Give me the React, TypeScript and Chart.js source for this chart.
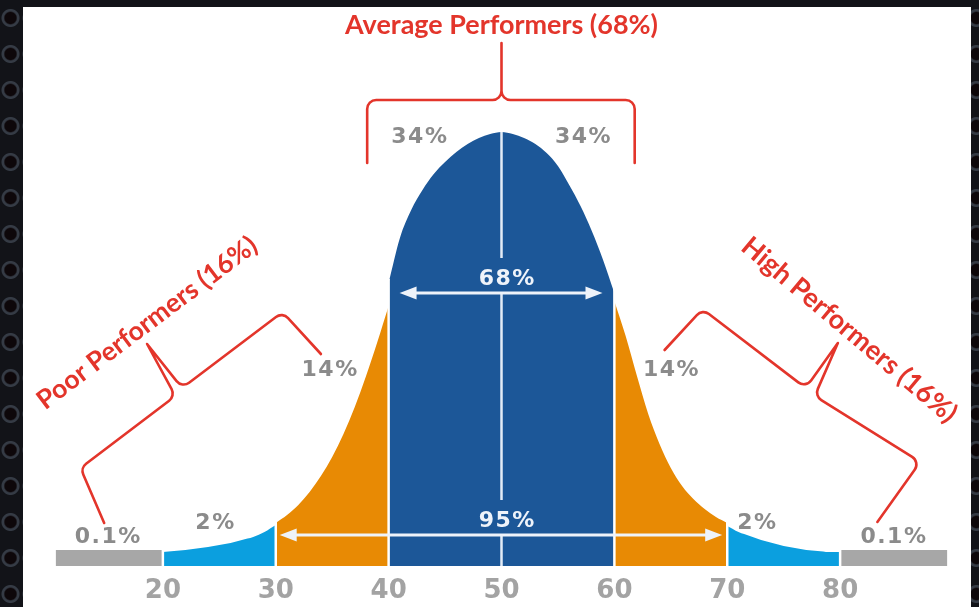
import React, { useEffect, useRef } from "react";
import { Chart, registerables } from "chart.js";

Chart.register(...registerables);

// ---------- data (x = score, y = relative height of the curve) ----------
const tickValues = [20, 30, 40, 50, 60, 70, 80];
const boundaries = [20, 30, 40, 60, 70, 80];

const grayLeftX = [10.5, 20];
const grayLeftY = [16, 16];
const tailLeftX = [20, 21, 22, 23, 24, 25, 26, 27, 28, 29, 30];
const tailLeftY = [14, 15, 16, 17.5, 19, 21, 23, 26, 29, 34, 41];
const orangeLeftX = [30, 31, 32, 33, 34, 35, 36, 37, 38, 39, 40];
const orangeLeftY = [43, 51, 61, 74, 90, 109, 132, 159, 190, 224, 260];
const centerX = [40, 41, 42, 43, 44, 45, 46, 47, 48, 49, 50, 51, 52, 53, 54, 55, 56, 57, 58, 59, 60];
const centerY = [283, 328, 356, 376, 392, 404, 414, 422, 428, 432, 434, 432, 428, 422, 413, 400, 381, 360, 335, 306, 273];
const orangeRightX = [60, 61, 62, 63, 64, 65, 66, 67, 68, 69, 70];
const orangeRightY = [265, 230, 190, 152, 122, 98, 80, 67, 57, 49, 43];
const tailRightX = [70, 71, 72, 73, 74, 75, 76, 77, 78, 79, 80];
const tailRightY = [40, 34, 30, 26, 23, 20, 18, 16, 15, 14, 14];
const grayRightX = [80, 89.5];
const grayRightY = [16, 16];

// arrows (span and height) with their white labels
const arrowLabels = ["68%", "95%"];
const arrowFrom = [40.97, 30.35];
const arrowTo = [58.95, 69.55];
const arrowY = [273, 31];

// grey share labels
const pctLabels = ["34%", "34%", "14%", "14%", "2%", "2%", "0.1%", "0.1%"];
const pctX = [42.7, 57.2, 34.75, 65.0, 24.6, 72.6, 15.1, 84.7];
const pctY = [429, 429, 196, 196, 43, 43, 29, 29];

// red group titles
const groupTitles = ["Average Performers (68%)", "Poor Performers (16%)", "High Performers (16%)"];
const groupX = [50, 18.6, 80.8];
const groupY = [541, 243, 236];
const groupAngle = [0, -37, 40];
const groupWidth = [313, 268, 272];

// red braces (polylines in data units, index of the pointed tip)
const braceTopX = [38.1, 38.1, 50, 50, 50, 61.8, 61.8];
const braceTopY = [403, 466, 466, 523, 466, 466, 403];
const bracePoorX = [14.8, 12.7, 21.1, 18.6, 21.7, 30.6, 34.0];
const bracePoorY = [43, 98, 170, 222, 178, 254, 212];
const braceHighX = [83.3, 87.1, 77.75, 79.8, 76.95, 67.8, 64.45];
const braceHighY = [44, 104, 170, 223, 178, 257, 216];
const braceTip = 3;

const COLORS = {
  gray: "#a7a7a7",
  tail: "#0b9fdf",
  orange: "#e88a04",
  blue: "#1c5798",
  red: "#e3352b",
  pct: "#8b8b8b",
  tick: "#a3a3a3",
};

const allSeries: [number[], number[]][] = [
  [grayLeftX, grayLeftY],
  [tailLeftX, tailLeftY],
  [orangeLeftX, orangeLeftY],
  [centerX, centerY],
  [orangeRightX, orangeRightY],
  [tailRightX, tailRightY],
  [grayRightX, grayRightY],
];

const heightAt = (b: number) => {
  let h = 0;
  allSeries.forEach(([xs, ys]) => {
    xs.forEach((x, i) => {
      if (x === b) h = Math.max(h, ys[i]);
    });
  });
  return h;
};

const pts = (xs: number[], ys: number[]) => xs.map((x, i) => ({ x, y: ys[i] }));

const area = (xs: number[], ys: number[], color: string, smooth: boolean) => ({
  data: pts(xs, ys),
  backgroundColor: color,
  borderWidth: 0,
  pointRadius: 0,
  fill: "origin",
  tension: smooth ? 0.4 : 0,
  cubicInterpolationMode: smooth ? "monotone" : "default",
});

function drawText(
  ctx: CanvasRenderingContext2D,
  text: string,
  x: number,
  y: number,
  font: string,
  color: string,
  angle = 0,
  spacing = 0
) {
  ctx.save();
  ctx.translate(x, y);
  ctx.rotate((angle * Math.PI) / 180);
  ctx.font = font;
  (ctx as any).letterSpacing = spacing + "px";
  ctx.fillStyle = color;
  ctx.textAlign = "center";
  ctx.textBaseline = "middle";
  ctx.fillText(text, spacing / 2, 0);
  ctx.restore();
}

function fitFont(ctx: CanvasRenderingContext2D, text: string, weight: string, family: string, target: number) {
  const base = 26;
  ctx.save();
  (ctx as any).letterSpacing = "0px";
  ctx.font = `${weight} ${base}px ${family}`;
  const w = ctx.measureText(text).width;
  ctx.restore();
  return `${weight} ${((base * target) / w).toFixed(2)}px ${family}`;
}

function drawBrace(
  ctx: CanvasRenderingContext2D,
  X: (v: number) => number,
  Y: (v: number) => number,
  xs: number[],
  ys: number[],
  tip: number
) {
  const p = xs.map((x, i) => [X(x), Y(ys[i])]);
  ctx.beginPath();
  ctx.moveTo(p[0][0], p[0][1]);
  for (let i = 1; i < p.length - 1; i++) {
    if (i === tip) ctx.lineTo(p[i][0], p[i][1]);
    else ctx.arcTo(p[i][0], p[i][1], p[i + 1][0], p[i + 1][1], 9);
  }
  ctx.lineTo(p[p.length - 1][0], p[p.length - 1][1]);
  ctx.stroke();
}

const overlayPlugin = {
  id: "overlay",
  afterDatasetsDraw(chart: any) {
    const ctx: CanvasRenderingContext2D = chart.ctx;
    const xs = chart.scales.x;
    const ys = chart.scales.y;
    const X = (v: number) => xs.getPixelForValue(v);
    const Y = (v: number) => ys.getPixelForValue(v);
    ctx.save();

    // white separators between the bands
    ctx.strokeStyle = "#ffffff";
    ctx.lineWidth = 2.5;
    boundaries.forEach((b) => {
      ctx.beginPath();
      ctx.moveTo(X(b), Y(0) + 1);
      ctx.lineTo(X(b), Y(heightAt(b)) - 4);
      ctx.stroke();
    });

    // centre line (broken for the arrow labels)
    ctx.strokeStyle = "#e3ebf6";
    ctx.lineWidth = 2.5;
    const peak = Math.max(...centerY);
    const cx = X(50);
    let start = Y(peak);
    arrowY.forEach((a) => {
      const by = Y(a);
      ctx.beginPath();
      ctx.moveTo(cx, start);
      ctx.lineTo(cx, by - 35);
      ctx.stroke();
      start = by;
    });
    ctx.beginPath();
    ctx.moveTo(cx, start);
    ctx.lineTo(cx, Y(0));
    ctx.stroke();

    // arrows
    arrowLabels.forEach((lab, i) => {
      const y = Y(arrowY[i]);
      const x1 = X(arrowFrom[i]);
      const x2 = X(arrowTo[i]);
      const head = 17;
      const hw = 6.5;
      ctx.strokeStyle = "#eef3fa";
      ctx.fillStyle = "#eef3fa";
      ctx.lineWidth = 3;
      ctx.beginPath();
      ctx.moveTo(x1 + head - 2, y);
      ctx.lineTo(x2 - head + 2, y);
      ctx.stroke();
      ctx.beginPath();
      ctx.moveTo(x1, y);
      ctx.lineTo(x1 + head, y - hw);
      ctx.lineTo(x1 + head, y + hw);
      ctx.closePath();
      ctx.fill();
      ctx.beginPath();
      ctx.moveTo(x2, y);
      ctx.lineTo(x2 - head, y - hw);
      ctx.lineTo(x2 - head, y + hw);
      ctx.closePath();
      ctx.fill();
      drawText(ctx, lab, X(50) + 5, y - 14, "bold 22px 'DejaVu Sans'", "#eef3fa", 0, 1.5);
    });

    // grey percentage labels
    pctLabels.forEach((lab, i) => {
      drawText(ctx, lab, X(pctX[i]), Y(pctY[i]), "bold 22px 'DejaVu Sans'", COLORS.pct, 0, 1.5);
    });

    // red braces
    ctx.strokeStyle = COLORS.red;
    ctx.lineWidth = 2.6;
    ctx.lineJoin = "round";
    ctx.lineCap = "round";
    drawBrace(ctx, X, Y, braceTopX, braceTopY, braceTip);
    drawBrace(ctx, X, Y, bracePoorX, bracePoorY, braceTip);
    drawBrace(ctx, X, Y, braceHighX, braceHighY, braceTip);

    // red titles
    groupTitles.forEach((t, i) => {
      const font = fitFont(ctx, t, "bold", "Lato", groupWidth[i]);
      drawText(ctx, t, X(groupX[i]), Y(groupY[i]), font, COLORS.red, groupAngle[i], 0);
    });

    ctx.restore();
  },
};

export default function App() {
  const ref = useRef<HTMLCanvasElement | null>(null);

  useEffect(() => {
    if (!ref.current) return;
    const chart = new Chart(ref.current, {
      type: "line",
      data: {
        datasets: allSeries.map(([xs, ys], i) => {
          const colors = [COLORS.gray, COLORS.tail, COLORS.orange, COLORS.blue, COLORS.orange, COLORS.tail, COLORS.gray];
          return area(xs, ys, colors[i], i !== 0 && i !== allSeries.length - 1);
        }) as any,
      },
      options: {
        animation: false,
        responsive: false,
        devicePixelRatio: 1,
        layout: { padding: { left: 50, right: 26, top: 0, bottom: 9.8 } },
        plugins: { legend: { display: false }, tooltip: { enabled: false } },
        scales: {
          x: {
            type: "linear",
            min: 10,
            max: 90,
            grid: { display: false, drawTicks: false },
            border: { display: false },
            afterBuildTicks: (scale: any) => {
              scale.ticks = tickValues.map((v) => ({ value: v }));
            },
            ticks: {
              padding: 10,
              color: COLORS.tick,
              font: { family: "'DejaVu Sans'", size: 26, weight: "bold" },
              callback: (v: any) => String(v),
            },
          },
          y: { display: false, min: 0, max: 566 },
        },
      } as any,
      plugins: [overlayPlugin],
    });
    return () => chart.destroy();
  }, []);

  const ring = "radial-gradient(circle, #0d070a 0 5.5px, #353b45 7px 8.5px, #121318 9.5px)";
  return (
    <div
      style={{
        position: "fixed",
        left: 0,
        top: 0,
        width: 979,
        height: 607,
        overflow: "hidden",
        backgroundColor: "#121318",
        backgroundImage: `${ring}, ${ring}`,
        backgroundSize: "21px 36px",
        backgroundPosition: "0px 0px, 10.5px 18px",
      }}
    >
      <div style={{ position: "absolute", left: 23, top: 7, width: 948, height: 600, background: "#ffffff" }} />
      <canvas ref={ref} width={979} height={627} style={{ position: "absolute", left: 0, top: 0 }} />
    </div>
  );
}
